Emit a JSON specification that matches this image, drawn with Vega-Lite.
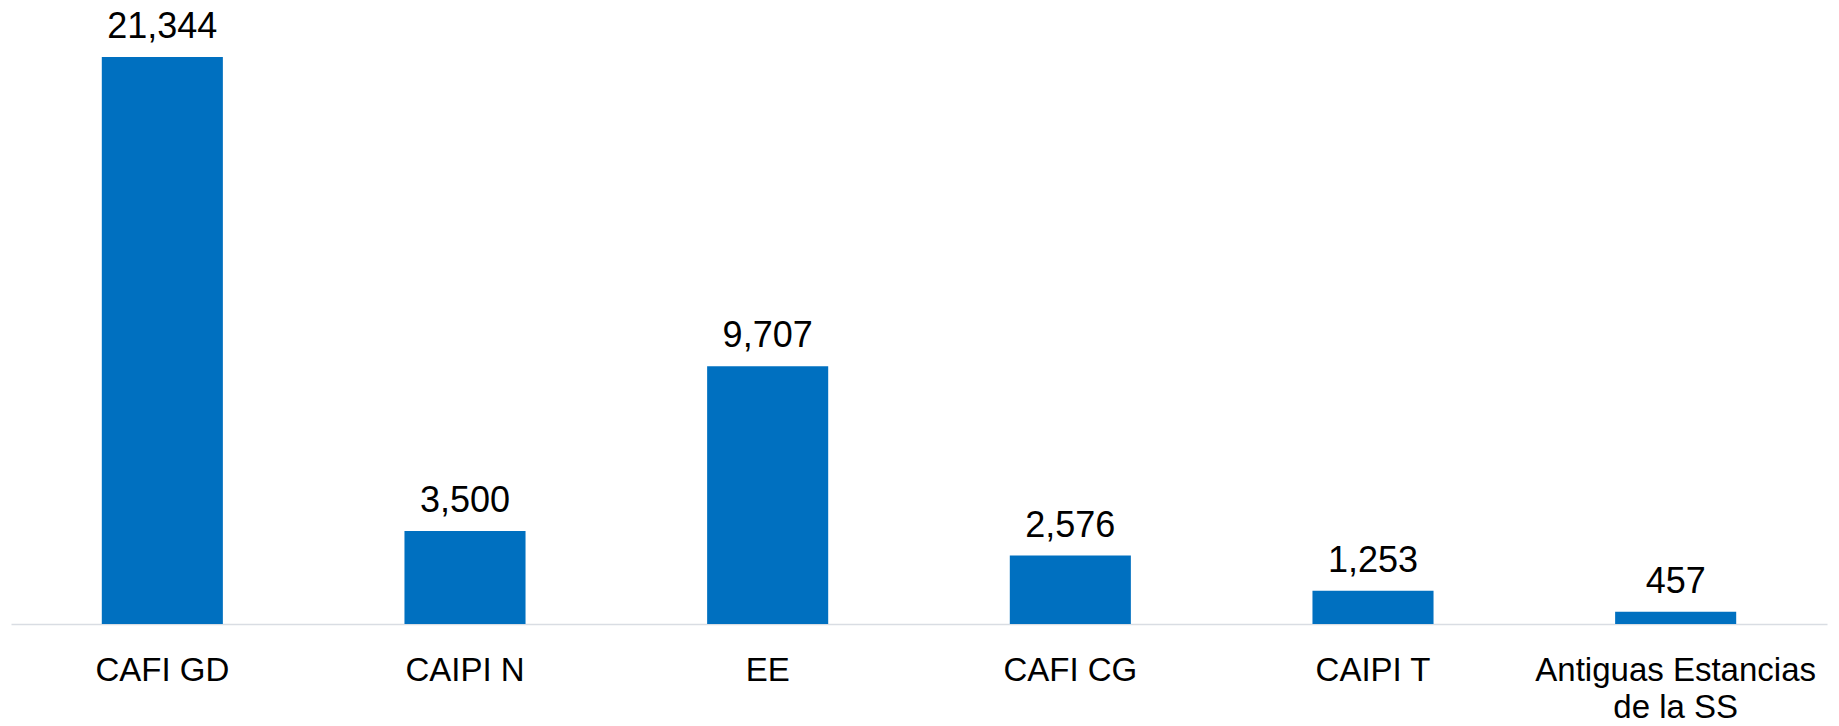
{
  "$schema": "https://vega.github.io/schema/vega-lite/v6.json",
  "autosize": {"type": "none"},
  "padding": {"left": 11, "top": 57, "right": 12, "bottom": 102},
  "width": 1816,
  "height": 567,
  "background": "white",
  "config": {"view": {"stroke": null}, "font": "Liberation Sans"},
  "data": {"values": [
    {"categoria": "CAFI GD", "valor": 21344},
    {"categoria": "CAIPI N", "valor": 3500},
    {"categoria": "EE", "valor": 9707},
    {"categoria": "CAFI CG", "valor": 2576},
    {"categoria": "CAIPI T", "valor": 1253},
    {"categoria": "Antiguas Estancias de la SS", "valor": 457}
  ]},
  "encoding": {
    "x": {
      "field": "categoria", "type": "nominal", "sort": null,
      "scale": {"paddingInner": 0.6, "paddingOuter": 0.3},
      "axis": {
        "title": null, "ticks": false, "domain": true, "domainColor": "#d9dde3", "domainWidth": 1.5,
        "labelAngle": 0, "labelFontSize": 33, "labelColor": "#000000", "labelPadding": 30,
        "labelLineHeight": 37, "labelBaseline": "top", "labelLimit": 0, "labelOverlap": false,
        "labelExpr": "datum.label == 'Antiguas Estancias de la SS' ? ['Antiguas Estancias', 'de la SS'] : datum.label"
      }
    },
    "y": {
      "field": "valor", "type": "quantitative",
      "scale": {"domain": [0, 21344], "nice": false},
      "axis": null
    }
  },
  "layer": [
    {"mark": {"type": "bar", "color": "#0070C0"}},
    {"mark": {"type": "text", "dy": -19, "baseline": "alphabetic", "fontSize": 36, "color": "#000000"},
     "encoding": {"text": {"field": "valor", "type": "quantitative", "format": ","}}}
  ]
}
